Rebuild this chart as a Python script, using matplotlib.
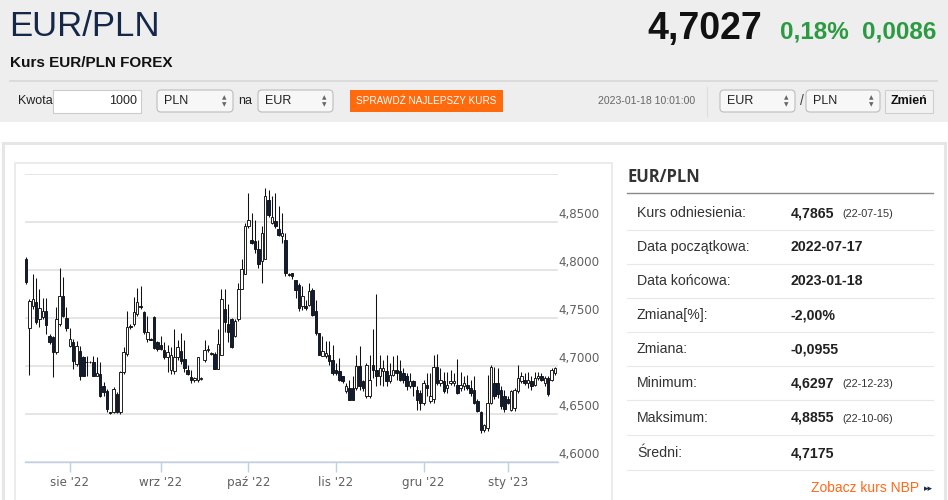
import numpy as np
import pandas as pd
import matplotlib
matplotlib.use("Agg")
import matplotlib.pyplot as plt
from matplotlib.patches import Rectangle, FancyBboxPatch

# --- EUR/PLN daily candles, 2022-07-17 .. 2023-01-18 ---
opens = [
    4.8115, 4.7392, 4.7628, 4.7663, 4.7490, 4.7507, 4.7576, 4.7309, 4.7299, 4.7142,
    4.7438, 4.7726, 4.7500, 4.7212, 4.7247, 4.7021, 4.7160, 4.7090, 4.7045, 4.7045,
    4.7038, 4.6899, 4.6917, 4.6795, 4.6743, 4.6517, 4.6517, 4.6708, 4.6517, 4.6934,
    4.7125, 4.7420, 4.7438, 4.7542, 4.7628, 4.7559, 4.7281, 4.7281, 4.7514, 4.7247,
    4.7214, 4.7162, 4.7093, 4.6955, 4.6945, 4.7093, 4.7152, 4.7076, 4.6955, 4.6886,
    4.6852, 4.6852, 4.6869, 4.7059, 4.7162, 4.7128, 4.7128, 4.6972, 4.7110, 4.7593,
    4.7438, 4.7490, 4.7317, 4.7490, 4.7800, 4.7955, 4.8455, 4.8317, 4.8300, 4.8214,
    4.8093, 4.8110, 4.8731, 4.8490, 4.8507, 4.8428, 4.8352, 4.8317, 4.7955, 4.7966,
    4.7899, 4.7847, 4.7622, 4.7622, 4.7639, 4.7795, 4.7569, 4.7344, 4.7108, 4.7101,
    4.7118, 4.7066, 4.6962, 4.6944, 4.6892, 4.6736, 4.6771, 4.6771, 4.6771, 4.6997,
    4.6840, 4.6684, 4.6684, 4.7014, 4.6962, 4.6892, 4.6944, 4.6944, 4.6840, 4.6910,
    4.6962, 4.6944, 4.6927, 4.6892, 4.6788, 4.6840, 4.6753, 4.6719, 4.6615,
    4.6806, 4.6636, 4.6653, 4.6993, 4.6823, 4.6840, 4.6772, 4.6823, 4.6823, 4.6806,
    4.6772, 4.6789, 4.6806, 4.6772, 4.6755, 4.6636, 4.6517, 4.6330, 4.6355, 4.6619,
    4.6823, 4.6823, 4.6755, 4.6687, 4.6653, 4.6544, 4.6558, 4.6738, 4.6840, 4.6857,
    4.6823, 4.6840, 4.6806, 4.6874, 4.6891, 4.6823, 4.6874, 4.6857, 4.6925,
]
highs = [
    4.8132, 4.7698, 4.7958, 4.7913, 4.7802, 4.7705, 4.7705, 4.7333, 4.7316, 4.7611,
    4.8017, 4.7924, 4.7611, 4.7392, 4.7281, 4.7257, 4.7212, 4.7108, 4.7108, 4.7056,
    4.7108, 4.7090, 4.7038, 4.6830, 4.6760, 4.6524, 4.6778, 4.6726, 4.6951, 4.7194,
    4.7576, 4.7438, 4.7715, 4.7809, 4.7837, 4.7576, 4.7524, 4.7290, 4.7524, 4.7264,
    4.7317, 4.7248, 4.7214, 4.7197, 4.7386, 4.7266, 4.7345, 4.7266, 4.7007, 4.6955,
    4.6886, 4.7093, 4.6886, 4.7266, 4.7214, 4.7145, 4.7145, 4.7386, 4.7800, 4.7800,
    4.7645, 4.7500, 4.7490, 4.7869, 4.8110, 4.8490, 4.8800, 4.8593, 4.8524, 4.8317,
    4.8455, 4.8855, 4.8834, 4.8766, 4.8800, 4.8662, 4.8593, 4.8386, 4.7972, 4.7972,
    4.7899, 4.7865, 4.7830, 4.7691, 4.7865, 4.7813, 4.7691, 4.7344, 4.7309, 4.7257,
    4.7257, 4.7222, 4.7031, 4.7083, 4.6892, 4.6823, 4.6858, 4.6892, 4.7118, 4.7205,
    4.6858, 4.7031, 4.7118, 4.7385, 4.7753, 4.7118, 4.7066, 4.7118, 4.7031, 4.7101,
    4.7118, 4.7066, 4.6979, 4.6927, 4.6927, 4.6858, 4.6788, 4.6753, 4.6858,
    4.6925, 4.6925, 4.7112, 4.7129, 4.6976, 4.6942, 4.6942, 4.6959, 4.6925, 4.7078,
    4.6942, 4.6891, 4.6908, 4.6857, 4.6891, 4.6653, 4.6534, 4.6398, 4.6908, 4.7010,
    4.6993, 4.6976, 4.6789, 4.6755, 4.6687, 4.6755, 4.6772, 4.7010, 4.6942, 4.6925,
    4.6942, 4.6891, 4.6942, 4.6942, 4.6925, 4.6891, 4.6891, 4.6976, 4.6993,
]
lows = [
    4.7854, 4.6906, 4.7594, 4.7438, 4.7403, 4.7490, 4.7333, 4.7229, 4.6882, 4.7125,
    4.7420, 4.7507, 4.7368, 4.7194, 4.6969, 4.7003, 4.6858, 4.6892, 4.6899, 4.7031,
    4.6892, 4.6892, 4.6674, 4.6691, 4.6517, 4.6505, 4.6510, 4.6510, 4.6500, 4.6917,
    4.7108, 4.7385, 4.7420, 4.7524, 4.7594, 4.7333, 4.7247, 4.7270, 4.7177, 4.7160,
    4.7162, 4.7076, 4.6938, 4.6921, 4.6921, 4.7059, 4.7024, 4.6938, 4.6903, 4.6828,
    4.6834, 4.6834, 4.6852, 4.7041, 4.7145, 4.7110, 4.6966, 4.6966, 4.7110, 4.7352,
    4.7248, 4.7186, 4.7300, 4.7472, 4.7800, 4.7955, 4.8440, 4.8266, 4.8179, 4.8024,
    4.7869, 4.8110, 4.8552, 4.8480, 4.8438, 4.8352, 4.8283, 4.7938, 4.7938, 4.7903,
    4.7708, 4.7569, 4.7587, 4.7587, 4.7622, 4.7517, 4.7326, 4.7118, 4.7101, 4.7083,
    4.7014, 4.6910, 4.6910, 4.6840, 4.6823, 4.6719, 4.6649, 4.6649, 4.6753, 4.6753,
    4.6736, 4.6667, 4.6667, 4.6875, 4.6788, 4.6806, 4.6788, 4.6788, 4.6823, 4.6892,
    4.6858, 4.6840, 4.6823, 4.6753, 4.6771, 4.6684, 4.6545, 4.6545, 4.6597,
    4.6687, 4.6619, 4.6619, 4.6806, 4.6789, 4.6721, 4.6721, 4.6806, 4.6789, 4.6704,
    4.6738, 4.6755, 4.6755, 4.6687, 4.6602, 4.6517, 4.6297, 4.6313, 4.6320, 4.6602,
    4.6653, 4.6670, 4.6551, 4.6517, 4.6602, 4.6534, 4.6534, 4.6721, 4.6823, 4.6806,
    4.6772, 4.6755, 4.6789, 4.6857, 4.6840, 4.6789, 4.6687, 4.6840, 4.6908,
]
closes = [
    4.7872, 4.7681, 4.7698, 4.7462, 4.7604, 4.7576, 4.7427, 4.7247, 4.7142, 4.7490,
    4.7733, 4.7524, 4.7392, 4.7281, 4.7056, 4.7212, 4.6899, 4.6899, 4.7038, 4.7038,
    4.6899, 4.6927, 4.6684, 4.6726, 4.6552, 4.6514, 4.6760, 4.6517, 4.6934, 4.7142,
    4.7403, 4.7403, 4.7559, 4.7663, 4.7611, 4.7351, 4.7351, 4.7275, 4.7188, 4.7177,
    4.7179, 4.7093, 4.7145, 4.7110, 4.7093, 4.7197, 4.7048, 4.6979, 4.6921, 4.6852,
    4.6876, 4.7093, 4.6872, 4.7162, 4.7179, 4.7128, 4.6972, 4.7231, 4.7697, 4.7455,
    4.7352, 4.7197, 4.7472, 4.7800, 4.8007, 4.8455, 4.8524, 4.8283, 4.8214, 4.8059,
    4.8386, 4.8766, 4.8576, 4.8552, 4.8455, 4.8369, 4.8386, 4.7972, 4.7950, 4.7938,
    4.7795, 4.7604, 4.7726, 4.7604, 4.7778, 4.7535, 4.7344, 4.7118, 4.7153, 4.7135,
    4.7049, 4.6927, 4.6927, 4.6858, 4.6840, 4.6788, 4.6649, 4.6649, 4.6997, 4.6788,
    4.6771, 4.7014, 4.6858, 4.6962, 4.6892, 4.6979, 4.6979, 4.6840, 4.6910, 4.6962,
    4.6927, 4.6858, 4.6858, 4.6788, 4.6840, 4.6788, 4.6649, 4.6615, 4.6823,
    4.6772, 4.6687, 4.6993, 4.6823, 4.6857, 4.6738, 4.6806, 4.6840, 4.6840, 4.6721,
    4.6806, 4.6823, 4.6772, 4.6721, 4.6619, 4.6534, 4.6330, 4.6381, 4.6619, 4.6993,
    4.6687, 4.6704, 4.6585, 4.6551, 4.6619, 4.6738, 4.6755, 4.6874, 4.6891, 4.6823,
    4.6857, 4.6789, 4.6874, 4.6891, 4.6857, 4.6874, 4.6704, 4.6959, 4.6976,
]

# forex days: Sunday..Friday, no Christmas / New Year
dates = pd.bdate_range("2022-07-17", "2023-01-18", freq="C",
                       weekmask="Sun Mon Tue Wed Thu Fri",
                       holidays=["2022-12-25", "2023-01-01"])
month_labels = ["sie '22", "wrz '22", "paź '22", "lis '22", "gru '22", "sty '23"]
y_ticks = [4.60, 4.65, 4.70, 4.75, 4.80, 4.85, 4.90]

# side table
stat_labels = ["Kurs odniesienia:", "Data początkowa:", "Data końcowa:", "Zmiana[%]:",
               "Zmiana:", "Minimum:", "Maksimum:", "Średni:"]
stat_values = ["4,7865", "2022-07-17", "2023-01-18", "-2,00%", "-0,0955",
               "4,6297", "4,8855", "4,7175"]
stat_dates = ["(22-07-15)", "", "", "", "", "(22-12-23)", "(22-10-06)", ""]

NARROW = ["Liberation Sans Narrow", "Liberation Sans", "DejaVu Sans"]
ARIAL = ["Liberation Sans", "DejaVu Sans"]

fig = plt.figure(figsize=(9.48, 5.0), dpi=100)
bg = fig.add_axes([0, 0, 1, 1])
bg.set_xlim(0, 948)
bg.set_ylim(500, 0)
bg.axis("off")

# header
bg.add_patch(Rectangle((0, 0), 948, 122, fc="#eeeeee", ec="none"))
bg.text(9, 27, "EUR/PLN", fontsize=25, color="#152849", va="center", family=NARROW)
bg.text(762, 29, "4,7027", fontsize=27, fontweight="bold", color="#111111",
        va="center", ha="right", family=NARROW)
bg.text(780, 32, "0,18%", fontsize=17.5, fontweight="bold", color="#2c9a43",
        va="center", family=NARROW)
bg.text(862, 32, "0,0086", fontsize=17.5, fontweight="bold", color="#2c9a43",
        va="center", family=NARROW)
bg.text(10, 63, "Kurs EUR/PLN FOREX", fontsize=11, fontweight="bold",
        color="#111111", va="center", family=NARROW)
bg.plot([10, 937], [81, 81], color="#d8d8d8", lw=1.2)

# form controls
bg.text(18, 101, "Kwota", fontsize=9, color="#222222", va="center", family=NARROW)
bg.add_patch(Rectangle((53, 90), 88, 23, fc="white", ec="#cccccc", lw=0.8))
bg.text(137, 101, "1000", fontsize=9, color="#222222", va="center", ha="right",
        family=NARROW)


def select_box(x, w, label):
    bg.add_patch(FancyBboxPatch((x, 90), w, 22, boxstyle="round,pad=0,rounding_size=4",
                                fc="#f7f7f7", ec="#bdbdbd", lw=0.8))
    bg.text(x + 7, 101, label, fontsize=9, color="#222222", va="center", family=NARROW)
    bg.text(x + w - 9, 97.5, "▲", fontsize=4.2, color="#666666", ha="center", va="center")
    bg.text(x + w - 9, 104.5, "▼", fontsize=4.2, color="#666666", ha="center", va="center")


select_box(157, 76, "PLN")
bg.text(238, 101, "na", fontsize=9, color="#222222", va="center", family=NARROW)
select_box(258, 75, "EUR")
bg.add_patch(Rectangle((350, 90), 153, 22, fc="#ff6a0d", ec="none"))
bg.text(426.5, 101.5, "SPRAWDŹ NAJLEPSZY KURS", fontsize=7.2, color="white",
        ha="center", va="center", family=NARROW)
bg.text(598, 101.5, "2023-01-18 10:01:00", fontsize=7.6, color="#666666",
        va="center", family=NARROW)
bg.plot([707, 707], [87, 116], color="#dddddd", lw=0.8)
select_box(720, 75, "EUR")
bg.text(800, 101, "/", fontsize=10, color="#444444", va="center", family=NARROW)
select_box(806, 74, "PLN")
bg.add_patch(Rectangle((885, 90), 48, 23, fc="#f2f2f2", ec="#cfcfcf", lw=0.8))
bg.text(909, 101.5, "Zmień", fontsize=9, fontweight="bold", color="#111111",
        ha="center", va="center", family=NARROW)

# panels
bg.add_patch(Rectangle((3, 143), 942, 362, fc="white", ec="#e6e6e6", lw=2.2))
bg.add_patch(Rectangle((15, 163), 597, 345, fc="white", ec="#e8e8e8", lw=1.2))

# right info table
bg.text(628, 177, "EUR/PLN", fontsize=12, fontweight="bold", color="#333333",
        va="center", family=["Open Sans", "DejaVu Sans"])
bg.plot([627, 933], [193, 193], color="#8a8a8a", lw=1.0)
row_y = [213, 247, 281, 315, 349, 383, 418, 453]
for y, lab, val, d in zip(row_y, stat_labels, stat_values, stat_dates):
    bg.text(637, y, lab, fontsize=10.2, color="#333333", va="center", family=ARIAL)
    bg.text(791, y, val, fontsize=10.2, fontweight="bold", color="#222222",
            va="center", family=ARIAL)
    if d:
        bg.text(842, y + 1, d, fontsize=7.8, color="#333333", va="center", family=ARIAL)
    bg.plot([627, 933], [y + 17, y + 17], color="#e8e8e8", lw=0.8)
bg.text(919, 488, "Zobacz kurs NBP", fontsize=10, color="#ff6a1a", ha="right",
        va="center", family=ARIAL)
bg.text(928, 489, "▸▸", fontsize=6.5, color="#1a2a4a", ha="center", va="center")

# candlestick chart
ax = fig.add_axes([25 / 948, 1 - 462 / 500, (558 - 25) / 948, (462 - 174) / 500])
ax.set_facecolor("none")
o = np.array(opens)
h = np.array(highs)
l = np.array(lows)
c = np.array(closes)
x = np.arange(len(dates))
up = c >= o

ax.vlines(x, l, h, color="#111111", lw=0.75, zorder=3)
body_lo = np.minimum(o, c)
body_h = np.maximum(np.abs(c - o), 0.0006)
ax.bar(x[up], body_h[up], bottom=body_lo[up], width=0.74, color="white",
       edgecolor="#111111", linewidth=0.65, zorder=4)
ax.bar(x[~up], body_h[~up], bottom=body_lo[~up], width=0.74, color="#0e1d3b",
       edgecolor="#111111", linewidth=0.65, zorder=4)

ax.set_xlim(-0.3, len(dates) - 0.1)
ax.set_ylim(4.60, 4.90)
ax.set_yticks(y_ticks)
ax.yaxis.grid(True, color="#e3e3e3", lw=1.3)
ax.set_axisbelow(True)
ax.tick_params(axis="y", length=0, labelleft=False)
for v in y_ticks[:-1]:
    ax.text(1.0, v + 0.0012, f"{v:.4f}".replace(".", ","), transform=ax.get_yaxis_transform(),
            fontsize=8.6, color="#606060", ha="left", va="bottom")

month_pos = [int(np.argmax((dates.year == y) & (dates.month == m)))
             for y, m in [(2022, 8), (2022, 9), (2022, 10), (2022, 11), (2022, 12), (2023, 1)]]
ax.set_xticks(month_pos)
ax.set_xticklabels(month_labels)
ax.tick_params(axis="x", length=7, width=1, color="#c0d0e0", labelsize=8.6,
               labelcolor="#606060", pad=3)
for s in ["top", "right", "left"]:
    ax.spines[s].set_visible(False)
ax.spines["bottom"].set_color("#c0d0e0")
ax.spines["bottom"].set_linewidth(1)

fig.savefig("out.png", dpi=100)
